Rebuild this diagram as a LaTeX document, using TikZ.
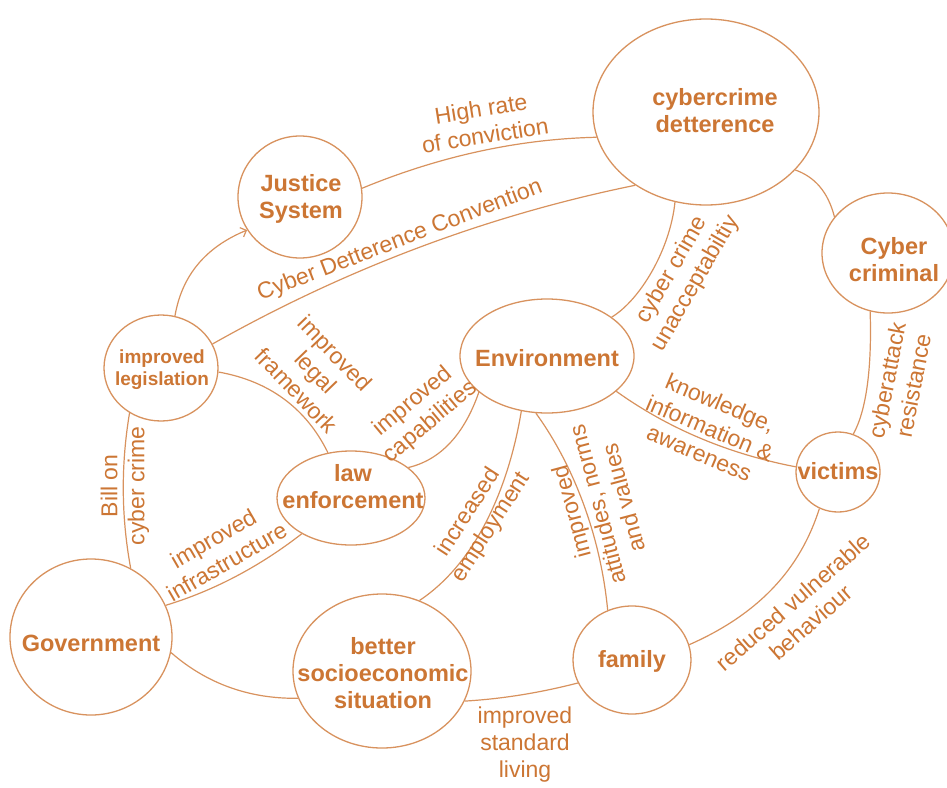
\documentclass[tikz,border=0pt]{standalone}
\usepackage{fontspec}
\setmainfont{Liberation Sans}
\usetikzlibrary{shapes.geometric,arrows.meta}
\definecolor{ink}{RGB}{204,118,52}
\definecolor{wire}{RGB}{216,146,94}
\tikzset{
  blob/.style={ellipse, draw=wire, line width=1.3pt, inner sep=0pt},
  ntext/.style={text=ink, font=\bfseries\fontsize{23.5}{27}\selectfont, align=center, inner sep=0pt},
  stext/.style={text=ink, font=\bfseries\fontsize{19}{22}\selectfont, align=center, inner sep=0pt},
  lab/.style={text=ink, font=\fontsize{23}{27}\selectfont, align=center, inner sep=0pt},
  link/.style={draw=wire, line width=1.2pt},
}
\begin{document}
\begin{tikzpicture}[x=1pt,y=-1pt]
\fill[white] (0,0) rectangle (947,787);
\useasboundingbox (0,0) rectangle (947,787);

% actors and factors
\node[blob, minimum width=226pt, minimum height=186pt] (det) at (706,112) {};
\node[blob, minimum width=124pt, minimum height=122pt] (jus) at (300,197) {};
\node[blob, minimum width=132pt, minimum height=120pt] (crim) at (888,253) {};
\node[blob, minimum width=114pt, minimum height=106pt] (leg) at (161,368) {};
\node[blob, minimum width=174pt, minimum height=114pt] (env) at (547,356) {};
\node[blob, minimum width=148pt, minimum height=94pt] (law) at (351,498) {};
\node[blob, minimum width=84pt, minimum height=80pt] (vic) at (838,472) {};
\node[blob, minimum width=162pt, minimum height=156pt] (gov) at (91,637) {};
\node[blob, minimum width=178pt, minimum height=154pt] (soc) at (382,671) {};
\node[blob, minimum width=118pt, minimum height=108pt] (fam) at (632,660) {};

\node[ntext] (det-t) at (715,111) {cybercrime\\detterence};
\node[ntext] (jus-t) at (301,199) {Justice\\System};
\node[ntext] (crim-t) at (894,260) {Cyber\\criminal};
\node[stext] (leg-t) at (162,370) {improved\\legislation};
\node[ntext] (env-t) at (547,358) {Environment};
\node[ntext] (law-t) at (353,487) {law\\enforcement};
\node[ntext] (vic-t) at (838,471) {victims};
\node[ntext] (gov-t) at (91,643) {Government};
\node[ntext] (soc-t) at (383,673) {better\\socioeconomic\\situation};
\node[ntext] (fam-t) at (632,661) {family};

% relations
\draw[link] (jus.8) .. controls (440,156) and (519,139) .. (det.193);
\draw[link] (leg.25) .. controls (347,268) and (489,215) .. (det.226);
\draw[link,-{Straight Barb[length=5pt,width=10pt]}] (leg.75) .. controls (182,275) and (206,247) .. (jus.212);
\draw[link] (leg.356) .. controls (269,381) and (306,408) .. (law.117);
\draw[link] (leg.235) .. controls (121,464) and (121,516) .. (gov.60);
\draw[link] (gov.23) .. controls (213,591) and (259,567) .. (law.216);
\draw[link] (gov.349) .. controls (207,684) and (250,699) .. (soc.198);
\draw[link] (soc.340) .. controls (501,699) and (539,693) .. (fam.203);
\draw[link] (env.245) .. controls (510,480) and (480,560) .. (soc.62);
\draw[link] (env.259) .. controls (570,460) and (600,530) .. (fam.116);
\draw[link] (law.28) .. controls (440,460) and (464,435) .. (env.208);
\draw[link] (env.31) .. controls (640,300) and (670,250) .. (det.251);
\draw[link] (env.333) .. controls (669,429) and (729,454) .. (vic.173);
\draw[link] (det.327) .. controls (815,177) and (828,192) .. (crim.146);
\draw[link] (crim.253) .. controls (872,370) and (866,411) .. (vic.68);
\draw[link] (vic.243) .. controls (803,560) and (768,610) .. (fam.15);

% relation labels
\node[lab, rotate=9] (l-conv) at (483,122) {High rate\\of conviction};
\node[lab, rotate=21] (l-cdc) at (400,241) {Cyber Detterence Convention};
\node[lab, rotate=-46] (l-legal) at (316,372) {improved\\legal\\framework};
\node[lab, rotate=90] (l-bill) at (125,486) {Bill on\\cyber crime};
\node[lab, rotate=30] (l-infra) at (220,550) {improved\\infrastructure};
\node[lab, rotate=40] (l-cap) at (422,412) {improved\\capabilities};
\node[lab, rotate=60] (l-unacc) at (684,277) {cyber crime\\unacceptabiltiy};
\node[lab, rotate=-23] (l-know) at (710,428) {knowledge,\\information \&\\awareness};
\node[lab, rotate=79] (l-resist) at (900,383) {cyberattack\\resistance};
\node[lab, rotate=57] (l-employ) at (480,520) {increased\\employment};
\node[lab, rotate=105] (l-attit) at (597,505) {improved\\attitudes, norms\\and values};
\node[lab, rotate=41] (l-reduce) at (802,612) {reduced vulnerable\\behaviour};
\node[lab] (l-living) at (525,745) {improved\\standard\\living};
\end{tikzpicture}
\end{document}
